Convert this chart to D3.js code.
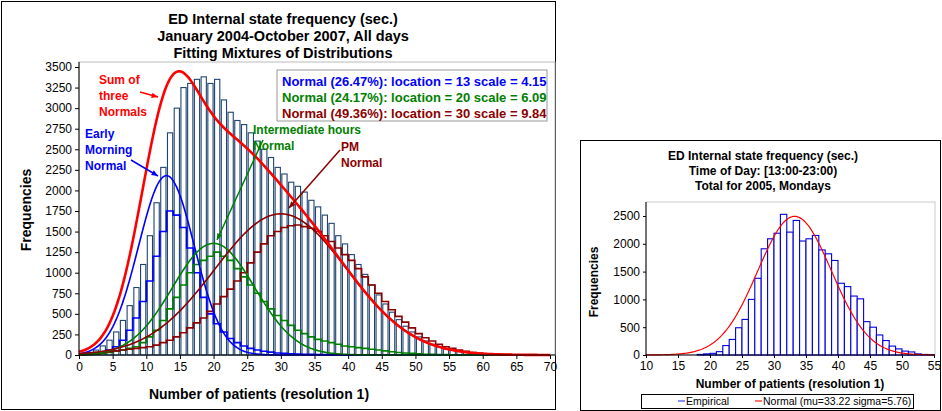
<!DOCTYPE html><html><head><meta charset="utf-8"><script src="https://cdn.jsdelivr.net/npm/d3@7"></script>
<style>body{margin:0;background:#fff}text{font-family:Arial,"Liberation Sans",sans-serif}</style></head><body>
<svg id="c" width="942" height="411"></svg>
<script>
// ---- main chart data ----
const mainX = d3.range(0,71);
const totalFreq = [0,30,60,110,180,280,420,600,820,1100,1450,1850,2280,2700,3000,3250,3300,3350,3380,3300,3350,3100,2950,2850,2800,2700,2600,2500,2400,2280,2200,2100,2050,1980,1880,1800,1700,1600,1450,1350,1220,1100,980,850,730,620,520,430,350,280,220,170,130,100,75,55,40,30,20,14,10,6,4,3,2,1,0,0,0,0,0];
const blueFreq = [0,10,20,35,60,100,180,300,450,650,900,1200,1500,1750,1700,1550,1300,1000,700,500,380,280,200,150,110,80,60,45,35,25,20,15,12,10,8,6,5,4,3,2,1,1,0];
const greenFreq = [0,5,10,20,30,45,60,80,100,150,220,300,420,560,700,850,1000,1100,1150,1200,1250,1200,1150,1050,950,850,750,650,560,480,420,360,300,260,220,190,170,150,130,110,100,90,80,70,60,50,40,30,25,20,15,10,8,6,4,2,1,0];
const redFreq = [0,10,20,30,40,50,60,70,80,90,100,120,150,180,220,270,330,390,450,530,620,710,800,900,1000,1120,1250,1350,1450,1500,1550,1570,1580,1560,1540,1500,1450,1380,1300,1220,1150,1050,950,850,750,650,550,470,400,330,260,210,170,130,100,80,60,45,30,20,15,10,5,3,1,0];
const compNames = ["Normal (26.47%): location = 13 scale = 4.15","Normal (24.17%): location = 20 scale = 6.09","Normal (49.36%): location = 30 scale = 9.84"];
const compWeight = [0.2647,0.2417,0.4936];
const compLoc = [13,20,30];
const compScale = [4.15,6.09,9.84];
const totalN = 85700;
const mainYTicks = d3.range(0,3501,250);
const mainXTicks = d3.range(0,71,5);
// ---- right chart data ----
const rX = d3.range(10,55);
const rFreq = [0,0,0,0,0,0,0,0,10,20,30,60,170,280,490,640,1000,1380,1910,2090,2190,2530,2210,2420,2050,2090,2150,1890,1820,1700,1290,1230,1060,1010,600,500,360,260,160,110,70,55,20,10,5];
const rMu = 33.22, rSigma = 5.76, rN = 36000;
const rYTicks = [0,500,1000,1500,2000,2500];
const rXTicks = d3.range(10,56,5);

const svg = d3.select("#c");
const pdf=(x,m,s)=>Math.exp(-0.5*((x-m)/s)**2)/(s*Math.sqrt(2*Math.PI));

svg.append("rect").attr("x",1.5).attr("y",1.5).attr("width",554).attr("height",408).attr("fill","none").attr("stroke","#000");
svg.append("rect").attr("x",580.5).attr("y",140.5).attr("width",360).attr("height",270).attr("fill","none").attr("stroke","#000");

// ===== main =====
{
const x=d3.scaleLinear().domain([0,70]).range([79,550]);
const y=d3.scaleLinear().domain([0,3500]).range([355,67]);
const g=svg.append("g");
g.append("rect").attr("x",79).attr("y",62).attr("width",476).attr("height",293).attr("fill","none").attr("stroke","#bbb");
const bw=x(1)-x(0);
g.selectAll(".b").data(totalFreq).join("rect").attr("x",(d,i)=>x(i)+1).attr("width",bw-1.5).attr("y",d=>y(d)).attr("height",d=>355-y(d)).attr("fill","#fff").attr("stroke","#1f4470").attr("stroke-width",1.1);
const step=(arr,col)=>{const pts=[];arr.forEach((v,i)=>{pts.push([x(i),y(v)]);pts.push([x(i+1),y(v)]);});
 g.append("path").attr("d",d3.line()(pts)).attr("fill","none").attr("stroke",col).attr("stroke-width",1.6);};
step(blueFreq,"#0000ff");step(greenFreq,"#008000");step(redFreq,"#8b0000");
const xs=d3.range(0,70.01,0.25);
const cols=["#0000ff","#008000","#8b0000"];
[0,1,2].forEach(k=>{g.append("path").attr("d",d3.line().x(d=>x(d)).y(d=>y(totalN*compWeight[k]*pdf(d,compLoc[k],compScale[k])))(xs)).attr("fill","none").attr("stroke",cols[k]).attr("stroke-width",1.6);});
g.append("path").attr("d",d3.line().x(d=>x(d)).y(d=>y(d3.sum([0,1,2],k=>totalN*compWeight[k]*pdf(d,compLoc[k],compScale[k]))))(xs)).attr("fill","none").attr("stroke","#ff0000").attr("stroke-width",2.6);
g.append("g").attr("transform","translate(79,0)").call(d3.axisLeft(y).tickValues(mainYTicks).tickSize(4).tickFormat(d3.format("d"))).call(a=>{a.select(".domain").remove();a.selectAll("text").attr("font-size",12).attr("fill","#000");});
g.append("line").attr("x1",79).attr("x2",79).attr("y1",62).attr("y2",355).attr("stroke","#000");
g.append("g").attr("transform","translate(0,355)").call(d3.axisBottom(x).tickValues(mainXTicks).tickSize(4).tickFormat(d3.format("d"))).call(a=>{a.select(".domain").attr("d","M79,0H555");a.selectAll("text").attr("font-size",12).attr("fill","#000");});
["ED Internal state frequency (sec.)","January 2004-October 2007, All days","Fitting Mixtures of Distributions"].forEach((t,i)=>g.append("text").attr("x",283).attr("y",24+i*17).attr("text-anchor","middle").attr("font-size",14.5).attr("font-weight","bold").text(t));
g.append("text").attr("x",259).attr("y",399).attr("text-anchor","middle").attr("font-size",14).attr("font-weight","bold").text("Number of patients (resolution 1)");
g.append("text").attr("transform","translate(31,210) rotate(-90)").attr("text-anchor","middle").attr("font-size",14).attr("font-weight","bold").text("Frequencies");
g.append("rect").attr("x",277).attr("y",70).attr("width",270).attr("height",51).attr("fill","#fff").attr("stroke","#999");
compNames.forEach((t,i)=>g.append("text").attr("x",282).attr("y",86+i*16).attr("font-size",13).attr("font-weight","bold").attr("fill",cols[i]).text(t));
const ann=(lines,xx,yy,col,anchor)=>lines.forEach((t,i)=>g.append("text").attr("x",xx).attr("y",yy+i*16).attr("text-anchor",anchor||"start").attr("font-size",12).attr("font-weight","bold").attr("fill",col).text(t));
ann(["Sum of","three","Normals"],99,84,"#ff0000");
ann(["Early","Morning","Normal"],85,138,"#0000ff");
ann(["Intermediate hours","Normal"],253,134,"#008000");
ann(["PM","Normal"],341,151,"#8b0000");
const arrow=(x1,y1,x2,y2,col)=>{g.append("line").attr("x1",x1).attr("y1",y1).attr("x2",x2).attr("y2",y2).attr("stroke",col).attr("stroke-width",1.5);
 const a=Math.atan2(y2-y1,x2-x1),L=7;g.append("path").attr("d",`M${x2},${y2}L${x2-L*Math.cos(a-0.4)},${y2-L*Math.sin(a-0.4)}L${x2-L*Math.cos(a+0.4)},${y2-L*Math.sin(a+0.4)}Z`).attr("fill",col);};
arrow(140,92,158,97,"#ff0000");
arrow(131,160,158,176,"#0000ff");
arrow(263,140,217,240,"#008000");
arrow(340,150,289,208,"#8b0000");
}
// ===== right =====
{
const x=d3.scaleLinear().domain([10,55]).range([646,934]);
const y=d3.scaleLinear().domain([0,2500]).range([355,216]);
const g=svg.append("g");
g.append("rect").attr("x",646).attr("y",202).attr("width",289).attr("height",153).attr("fill","none").attr("stroke","#ccc");
const bw=x(1)-x(0);
g.selectAll(".b").data(rFreq).join("rect").attr("x",(d,i)=>x(rX[i])).attr("width",bw).attr("y",d=>y(d)).attr("height",d=>355-y(d)).attr("fill","#fff").attr("stroke","#0000dd").attr("stroke-width",1.1);
const xs=d3.range(10,55.01,0.2);
g.append("path").attr("d",d3.line().x(d=>x(d)).y(d=>y(rN*pdf(d,rMu,rSigma)))(xs)).attr("fill","none").attr("stroke","#ff0000").attr("stroke-width",1.2);
g.append("g").attr("transform","translate(646,0)").call(d3.axisLeft(y).tickValues(rYTicks).tickSize(3).tickFormat(d3.format("d"))).call(a=>{a.select(".domain").remove();a.selectAll("text").attr("font-size",12).attr("fill","#000");});
g.append("line").attr("x1",646).attr("x2",646).attr("y1",202).attr("y2",355).attr("stroke","#000");
g.append("g").attr("transform","translate(0,355)").call(d3.axisBottom(x).tickValues(rXTicks).tickSize(3)).call(a=>{a.select(".domain").attr("d","M646,0H935");a.selectAll("text").attr("font-size",12).attr("fill","#000");});
["ED Internal state frequency (sec.)","Time of Day: [13:00-23:00)","Total for 2005, Mondays"].forEach((t,i)=>g.append("text").attr("x",763).attr("y",160+i*15).attr("text-anchor","middle").attr("font-size",12).attr("font-weight","bold").text(t));
g.append("text").attr("x",790).attr("y",388).attr("text-anchor","middle").attr("font-size",12).attr("font-weight","bold").text("Number of patients (resolution 1)");
g.append("text").attr("transform","translate(598,282) rotate(-90)").attr("text-anchor","middle").attr("font-size",12).attr("font-weight","bold").text("Frequencies");
g.append("rect").attr("x",641.5).attr("y",394.5).attr("width",272).attr("height",14).attr("fill","#fff").attr("stroke","#000");
g.append("line").attr("x1",678).attr("x2",685).attr("y1",401).attr("y2",401).attr("stroke","#6666ff").attr("stroke-width",1.5);
g.append("text").attr("x",686).attr("y",405).attr("font-size",10.5).text("Empirical");
g.append("line").attr("x1",755).attr("x2",762).attr("y1",401).attr("y2",401).attr("stroke","#ff4444").attr("stroke-width",1.5);
g.append("text").attr("x",763).attr("y",405).attr("font-size",10.5).text("Normal (mu=33.22 sigma=5.76)");
}
</script></body></html>
